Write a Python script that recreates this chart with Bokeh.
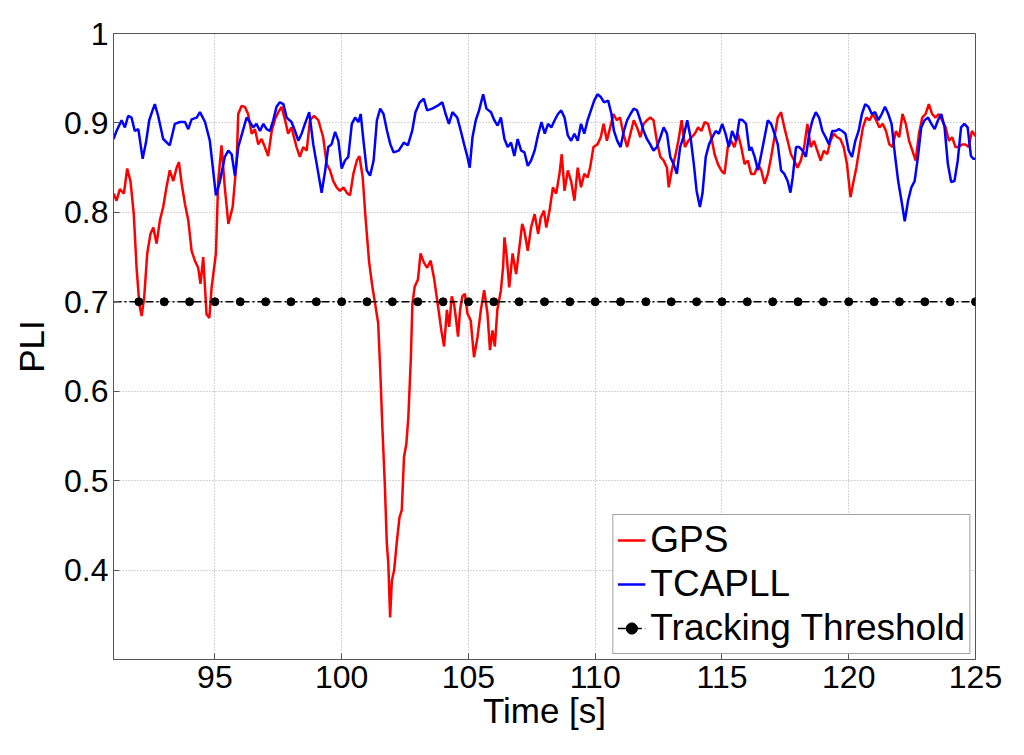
from bokeh.plotting import figure
from bokeh.models import Range1d, FixedTicker, Legend, LegendItem
from bokeh.embed import file_html
from bokeh.resources import INLINE

# ---- data ----
gps_t = [91.0, 91.12, 91.25, 91.41, 91.54, 91.67, 91.80, 91.91, 92.02, 92.11, 92.21, 92.33, 92.46, 92.57,
         92.70, 92.83, 92.96, 93.09, 93.22, 93.36, 93.49, 93.58, 93.69, 93.82, 93.95, 94.08, 94.21, 94.34,
         94.43, 94.54, 94.67, 94.78, 94.87, 95.04, 95.13, 95.26, 95.39, 95.53, 95.70, 95.86, 95.92, 96.05,
         96.18, 96.31, 96.45, 96.58, 96.71, 96.84, 96.97, 97.10, 97.24, 97.37, 97.50, 97.63, 97.76, 97.89,
         98.02, 98.22, 98.35, 98.48, 98.62, 98.75, 98.91, 99.08, 99.27, 99.41, 99.54, 99.67, 99.80, 99.93,
         100.07, 100.20, 100.33, 100.46, 100.60, 100.70, 100.83, 100.93, 101.08, 101.21, 101.34, 101.44,
         101.52, 101.61, 101.70, 101.78, 101.84, 101.91, 101.98, 102.07, 102.17, 102.28, 102.37, 102.46,
         102.55, 102.63, 102.73, 102.79, 102.88, 103.01, 103.11, 103.24, 103.37, 103.51, 103.64, 103.71,
         103.84, 103.93, 104.04, 104.15, 104.24, 104.34, 104.43, 104.50, 104.59, 104.67, 104.76, 104.86,
         104.96, 105.09, 105.22, 105.36, 105.49, 105.62, 105.75, 105.85, 105.95, 106.04, 106.14, 106.28,
         106.37, 106.42, 106.50, 106.61, 106.74, 106.88, 107.01, 107.12, 107.20, 107.34, 107.47, 107.61,
         107.75, 107.85, 107.98, 108.07, 108.20, 108.33, 108.46, 108.59, 108.68, 108.79, 108.92, 109.05,
         109.18, 109.31, 109.44, 109.57, 109.70, 109.80, 109.93, 110.09, 110.22, 110.33, 110.46, 110.59,
         110.72, 110.85, 110.98, 111.11, 111.26, 111.39, 111.52, 111.65, 111.78, 111.91, 112.04, 112.17,
         112.30, 112.43, 112.57, 112.70, 112.83, 112.90, 113.02, 113.15, 113.28, 113.41, 113.54, 113.67,
         113.80, 113.93, 114.06, 114.19, 114.32, 114.45, 114.58, 114.71, 114.84, 114.97, 115.10, 115.23,
         115.36, 115.49, 115.63, 115.76, 115.89, 116.02, 116.15, 116.29, 116.42, 116.55, 116.68, 116.81,
         116.94, 117.07, 117.20, 117.33, 117.46, 117.59, 117.72, 117.85, 117.98, 118.11, 118.24, 118.37,
         118.50, 118.63, 118.76, 118.89, 119.02, 119.15, 119.28, 119.41, 119.54, 119.67, 119.80, 119.93,
         120.07, 120.17, 120.30, 120.43, 120.56, 120.69, 120.82, 120.95, 121.08, 121.21, 121.34, 121.47,
         121.60, 121.73, 121.86, 121.99, 122.12, 122.25, 122.38, 122.51, 122.64, 122.77, 122.90, 123.03,
         123.16, 123.29, 123.42, 123.55, 123.68, 123.82, 123.95, 124.08, 124.21, 124.34, 124.47, 124.60,
         124.73, 124.86, 125.0]
gps_v = [0.821, 0.813, 0.826, 0.821, 0.849, 0.835, 0.798, 0.738, 0.697, 0.684, 0.705, 0.754, 0.776, 0.783,
         0.765, 0.791, 0.806, 0.828, 0.847, 0.835, 0.850, 0.856, 0.832, 0.809, 0.791, 0.757, 0.746, 0.738,
         0.720, 0.750, 0.686, 0.682, 0.716, 0.754, 0.835, 0.875, 0.828, 0.787, 0.806, 0.858, 0.910, 0.919,
         0.918, 0.910, 0.888, 0.893, 0.876, 0.882, 0.873, 0.863, 0.891, 0.904, 0.912, 0.918, 0.904, 0.888,
         0.895, 0.873, 0.862, 0.873, 0.869, 0.903, 0.908, 0.903, 0.884, 0.854, 0.847, 0.835, 0.828, 0.824,
         0.828, 0.822, 0.819, 0.843, 0.858, 0.863, 0.839, 0.798, 0.745, 0.717, 0.694, 0.676,
         0.624, 0.556, 0.497, 0.430, 0.407, 0.347, 0.388, 0.400, 0.430, 0.459, 0.467, 0.527,
         0.541, 0.571, 0.638, 0.698, 0.717, 0.725, 0.754, 0.744, 0.738, 0.746, 0.727, 0.713,
         0.687, 0.668, 0.650, 0.691, 0.672, 0.706, 0.698, 0.683, 0.661, 0.691, 0.706, 0.709,
         0.687, 0.679, 0.638, 0.661, 0.691, 0.713, 0.687, 0.646, 0.668, 0.650, 0.691, 0.713,
         0.740, 0.772, 0.754, 0.716, 0.754, 0.731, 0.761, 0.787, 0.780, 0.757, 0.783, 0.798,
         0.776, 0.794, 0.802, 0.783, 0.802, 0.828, 0.821, 0.843, 0.865, 0.824, 0.847, 0.835,
         0.813, 0.850, 0.828, 0.843, 0.839, 0.850, 0.873, 0.876, 0.884, 0.899, 0.880, 0.895,
         0.910, 0.903, 0.906, 0.888, 0.873, 0.888, 0.903, 0.895, 0.884, 0.899, 0.903, 0.906,
         0.903, 0.880, 0.862, 0.858, 0.850, 0.828, 0.847, 0.862, 0.880, 0.903, 0.873, 0.880,
         0.884, 0.888, 0.895, 0.891, 0.901, 0.899, 0.884, 0.865, 0.854, 0.847, 0.843, 0.873,
         0.880, 0.873, 0.888, 0.873, 0.854, 0.858, 0.843, 0.843, 0.854, 0.847, 0.832, 0.843,
         0.862, 0.884, 0.906, 0.912, 0.895, 0.880, 0.865, 0.858, 0.850, 0.858, 0.873, 0.899,
         0.873, 0.880, 0.869, 0.858, 0.869, 0.865, 0.880, 0.888, 0.884, 0.882, 0.873, 0.854,
         0.817, 0.832, 0.850, 0.873, 0.895, 0.906, 0.903, 0.910, 0.903, 0.895, 0.899, 0.891,
         0.876, 0.873, 0.891, 0.884, 0.910, 0.899, 0.880, 0.869, 0.858, 0.888, 0.906, 0.910,
         0.921, 0.910, 0.906, 0.910, 0.903, 0.895, 0.880, 0.884, 0.873, 0.873, 0.876, 0.876,
         0.873, 0.891, 0.885]

tca_t = [91.0, 91.12, 91.32, 91.45, 91.58, 91.71, 91.84, 91.98, 92.15, 92.28, 92.41, 92.54, 92.63, 92.76,
         92.96, 93.22, 93.42, 93.62, 93.82, 93.95, 94.08, 94.28, 94.41, 94.61, 94.80, 95.04, 95.20, 95.39,
         95.53, 95.66, 95.79, 95.92, 96.09, 96.25, 96.38, 96.51, 96.64, 96.78, 96.91, 97.04, 97.17, 97.30,
         97.43, 97.56, 97.70, 97.83, 98.02, 98.16, 98.29, 98.42, 98.55, 98.72, 98.88, 99.04, 99.21, 99.34,
         99.47, 99.60, 99.74, 99.87, 100.00, 100.13, 100.26, 100.40, 100.53, 100.66, 100.75, 100.86, 100.99,
         101.12, 101.26, 101.39, 101.52, 101.65, 101.79, 101.92, 102.05, 102.25, 102.45, 102.61, 102.78,
         102.91, 103.08, 103.24, 103.37, 103.57, 103.77, 103.97, 104.10, 104.23, 104.37, 104.56, 104.70,
         104.83, 104.96, 105.05, 105.16, 105.29, 105.42, 105.58, 105.71, 105.89, 106.02, 106.15, 106.28,
         106.42, 106.55, 106.68, 106.81, 106.94, 107.08, 107.21, 107.34, 107.47, 107.61, 107.74, 107.88,
         108.01, 108.14, 108.27, 108.40, 108.53, 108.66, 108.79, 108.92, 109.05, 109.18, 109.31, 109.44,
         109.57, 109.70, 109.83, 109.96, 110.09, 110.22, 110.35, 110.51, 110.64, 110.74, 110.87, 111.00,
         111.13, 111.26, 111.39, 111.52, 111.65, 111.78, 111.91, 112.04, 112.17, 112.30, 112.43, 112.57,
         112.70, 112.83, 112.96, 113.09, 113.22, 113.35, 113.48, 113.63, 113.76, 113.89, 114.00, 114.13,
         114.23, 114.36, 114.49, 114.62, 114.75, 114.88, 115.01, 115.14, 115.27, 115.40, 115.56, 115.69,
         115.82, 115.95, 116.08, 116.16, 116.29, 116.42, 116.55, 116.68, 116.81, 116.94, 117.07, 117.20,
         117.33, 117.46, 117.59, 117.70, 117.79, 117.92, 118.05, 118.18, 118.31, 118.44, 118.57, 118.70,
         118.83, 118.96, 119.09, 119.22, 119.35, 119.48, 119.61, 119.74, 119.87, 120.00, 120.13, 120.26,
         120.39, 120.52, 120.65, 120.78, 120.91, 121.04, 121.17, 121.30, 121.43, 121.56, 121.69, 121.82,
         121.95, 122.08, 122.21, 122.34, 122.47, 122.60, 122.73, 122.86, 122.99, 123.13, 123.26, 123.39,
         123.52, 123.65, 123.78, 123.91, 124.04, 124.17, 124.30, 124.43, 124.56, 124.69, 124.82, 124.91,
         125.0]
tca_v = [0.882, 0.891, 0.903, 0.895, 0.908, 0.906, 0.891, 0.893, 0.860, 0.878, 0.903, 0.914, 0.921, 0.908,
         0.882, 0.875, 0.899, 0.901, 0.901, 0.893, 0.904, 0.906, 0.912, 0.901, 0.880, 0.819, 0.835, 0.862,
         0.869, 0.865, 0.841, 0.873, 0.890, 0.906, 0.901, 0.895, 0.899, 0.891, 0.899, 0.893, 0.891, 0.903,
         0.918, 0.923, 0.921, 0.906, 0.901, 0.891, 0.880, 0.888, 0.899, 0.912, 0.876, 0.850, 0.822, 0.845,
         0.873, 0.876, 0.890, 0.880, 0.849, 0.858, 0.862, 0.899, 0.906, 0.901, 0.910, 0.880, 0.847,
         0.841, 0.858, 0.903, 0.916, 0.910, 0.891, 0.876, 0.867, 0.869, 0.878, 0.875, 0.891,
         0.912, 0.923, 0.927, 0.914, 0.916, 0.919, 0.923, 0.910, 0.899, 0.912, 0.906, 0.891,
         0.876, 0.862, 0.850, 0.884, 0.903, 0.914, 0.932, 0.916, 0.912, 0.903, 0.897, 0.906,
         0.882, 0.873, 0.878, 0.863, 0.882, 0.869, 0.867, 0.852, 0.858, 0.869, 0.886, 0.901,
         0.888, 0.899, 0.895, 0.903, 0.910, 0.914, 0.906, 0.886, 0.880, 0.888, 0.880, 0.899,
         0.888, 0.903, 0.914, 0.925, 0.932, 0.929, 0.923, 0.925, 0.910, 0.891, 0.880, 0.873,
         0.891, 0.903, 0.910, 0.916, 0.914, 0.903, 0.891, 0.882, 0.876, 0.869, 0.873, 0.884,
         0.895, 0.888, 0.862, 0.854, 0.843, 0.873, 0.884, 0.903, 0.884, 0.854, 0.824, 0.806,
         0.821, 0.862, 0.876, 0.884, 0.891, 0.888, 0.899, 0.888, 0.873, 0.891, 0.880, 0.904,
         0.903, 0.899, 0.869, 0.873, 0.862, 0.847, 0.865, 0.884, 0.903, 0.899, 0.888, 0.876,
         0.847, 0.843, 0.835, 0.822, 0.839, 0.873, 0.873, 0.869, 0.862, 0.888, 0.903, 0.912,
         0.906, 0.891, 0.884, 0.876, 0.891, 0.891, 0.893, 0.891, 0.888, 0.869, 0.862, 0.880,
         0.891, 0.910, 0.921, 0.918, 0.910, 0.912, 0.903, 0.910, 0.918, 0.910, 0.899, 0.865,
         0.835, 0.813, 0.790, 0.813, 0.828, 0.835, 0.862, 0.895, 0.903, 0.906, 0.899, 0.893,
         0.903, 0.910, 0.895, 0.854, 0.834, 0.835, 0.858, 0.895, 0.899, 0.895, 0.863, 0.860,
         0.860]

thr_t = [91, 92, 93, 94, 95, 96, 97, 98, 99, 100, 101, 102, 103, 104, 105, 106, 107, 108, 109, 110,
         111, 112, 113, 114, 115, 116, 117, 118, 119, 120, 121, 122, 123, 124, 125]
thr_v = [0.7] * len(thr_t)

x_ticks = [95, 100, 105, 110, 115, 120, 125]
y_ticks = [0.4, 0.5, 0.6, 0.7, 0.8, 0.9, 1.0]
y_tick_labels = ["0.4", "0.5", "0.6", "0.7", "0.8", "0.9", "1"]

FONT = "Liberation Sans"

p = figure(width=1008, height=739, output_backend="svg", toolbar_location=None,
           x_range=Range1d(91, 125), y_range=Range1d(0.3, 1.0),
           min_border_left=113, min_border_right=33, min_border_top=33, min_border_bottom=80)
p.background_fill_color = "white"
p.border_fill_color = "white"
p.outline_line_color = "#555555"
p.outline_line_width = 1

r_gps = p.line(gps_t, gps_v, line_color="#ff0000", line_width=2.5)
r_tca = p.line(tca_t, tca_v, line_color="#0000ff", line_width=2.5)
r_thr = p.line(thr_t, thr_v, line_color="black", line_width=1.6, line_dash="8 3 2 3")
r_dot = p.scatter(thr_t[1:], thr_v[1:], size=8, marker="circle", fill_color="black", line_color="black")

for ax in (p.xaxis[0], p.yaxis[0]):
    ax.major_tick_in = 6
    ax.major_tick_out = 0
    ax.minor_tick_line_color = None
    ax.axis_line_color = "#555555"
    ax.major_tick_line_color = "#555555"
    ax.major_label_text_font = FONT
    ax.major_label_text_font_size = "32px"
    ax.major_label_text_color = "black"
    ax.axis_label_text_font = FONT
    ax.axis_label_text_font_size = "35px"
    ax.axis_label_text_font_style = "normal"
    ax.axis_label_text_color = "black"

p.xaxis.ticker = FixedTicker(ticks=x_ticks)
p.yaxis.ticker = FixedTicker(ticks=y_ticks)
p.yaxis.major_label_overrides = dict(zip(y_ticks, y_tick_labels))
p.xaxis.axis_label = "Time [s]"
p.yaxis.axis_label = "PLI"
p.xaxis.major_label_standoff = 6
p.xaxis.axis_label_standoff = 0
p.yaxis.major_label_standoff = 5
p.yaxis.axis_label_standoff = 10

p.xgrid.ticker = FixedTicker(ticks=x_ticks)
p.ygrid.ticker = FixedTicker(ticks=y_ticks)
for g in (p.xgrid[0], p.ygrid[0]):
    g.grid_line_color = "#a8a8a8"
    g.grid_line_dash = "1 2"
    g.grid_line_width = 1

legend = Legend(items=[LegendItem(label="GPS", renderers=[r_gps]),
                       LegendItem(label="TCAPLL", renderers=[r_tca]),
                       LegendItem(label="Tracking Threshold", renderers=[r_thr, r_dot])],
                location="bottom_right")
legend.label_text_font = FONT
legend.label_text_font_size = "37px"
legend.label_text_color = "black"
legend.glyph_width = 28
legend.glyph_height = 40
legend.label_height = 40
legend.label_standoff = 5
legend.spacing = 2
legend.padding = 4
legend.margin = 5
legend.border_line_color = "#444444"
legend.border_line_width = 1
legend.background_fill_color = "white"
legend.background_fill_alpha = 1.0
p.add_layout(legend)

open("out.html", "w").write(file_html(p, INLINE))
